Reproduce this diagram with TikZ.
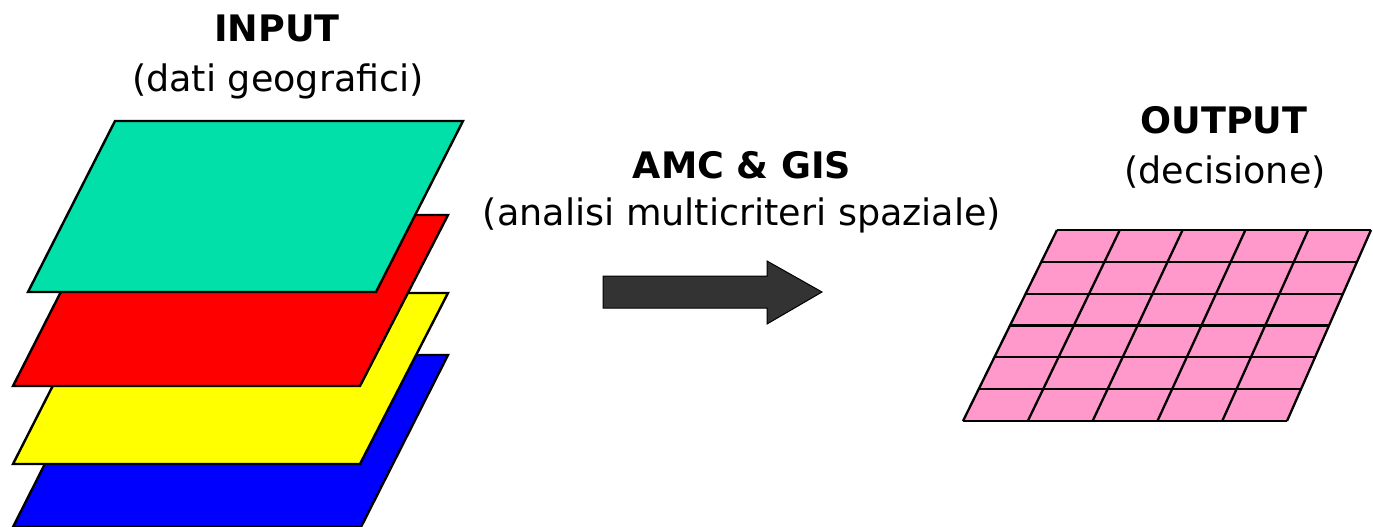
\documentclass[tikz,border=0pt]{standalone}
\usepackage{fontspec}
\setmainfont{DejaVu Sans}
\usetikzlibrary{calc}
\definecolor{layergreen}{RGB}{0,224,168}
\definecolor{layerred}{RGB}{255,0,0}
\definecolor{layeryellow}{RGB}{255,255,0}
\definecolor{layerblue}{RGB}{0,0,255}
\definecolor{gridpink}{RGB}{255,153,204}
\definecolor{arrowgray}{RGB}{51,51,51}
\tikzset{
  layer/.style={draw=black, line width=2.4, line join=miter},
  gridline/.style={draw=black, line width=2.3},
  title/.style={font=\fontsize{36.5}{44}\selectfont\bfseries, anchor=base, inner sep=0pt},
  subtitle/.style={font=\fontsize{36.5}{44}\selectfont, anchor=base, inner sep=0pt},
}
\begin{document}
\begin{tikzpicture}[x=1pt,y=-1pt]
\useasboundingbox (0,0) rectangle (1373,527);
% layers
\path[layer, fill=layerblue]   (100,355) -- (448,355) -- (361,527) -- (13,527) -- cycle;
\path[layer, fill=layeryellow] (100,293) -- (448,293) -- (360,464) -- (13,464) -- cycle;
\path[layer, fill=layerred]    (100,215) -- (448,215) -- (360,386) -- (13,386) -- cycle;
\path[layer, fill=layergreen]  (115,121) -- (463,121) -- (376,292) -- (28,292) -- cycle;
% arrow
\path[draw=black, line width=1, fill=arrowgray, line join=miter]
  (603,276) -- (767,276) -- (767,261) -- (822,292) -- (767,324) -- (767,308) -- (603,308) -- cycle;
% grid
\coordinate (gA) at (1057,230);
\coordinate (gB) at (1371,230);
\coordinate (gC) at (1287,421);
\coordinate (gD) at (963,421);
\path[fill=gridpink] (gA) -- (gB) -- (gC) -- (gD) -- cycle;
\foreach \i in {0,...,6}{
  \draw[gridline] ($(gA)!\i/6!(gD)$) -- ($(gB)!\i/6!(gC)$);
}
\foreach \j in {0,...,5}{
  \draw[gridline] ($(gA)!\j/5!(gB)$) -- ($(gD)!\j/5!(gC)$);
}
% texts
\node[title] (inp) at (277,42) {INPUT};
\node[subtitle] (inpsub) at (278,91) {(dati geografici)};
\node[title] (amc) at (742,178) {AMC \& GIS};
\node[subtitle] (amcsub) at (742,225) {(analisi multicriteri spaziale)};
\node[title] (out) at (1224,133) {OUTPUT};
\node[subtitle] (outsub) at (1225,183) {(decisione)};
\end{tikzpicture}
\end{document}
